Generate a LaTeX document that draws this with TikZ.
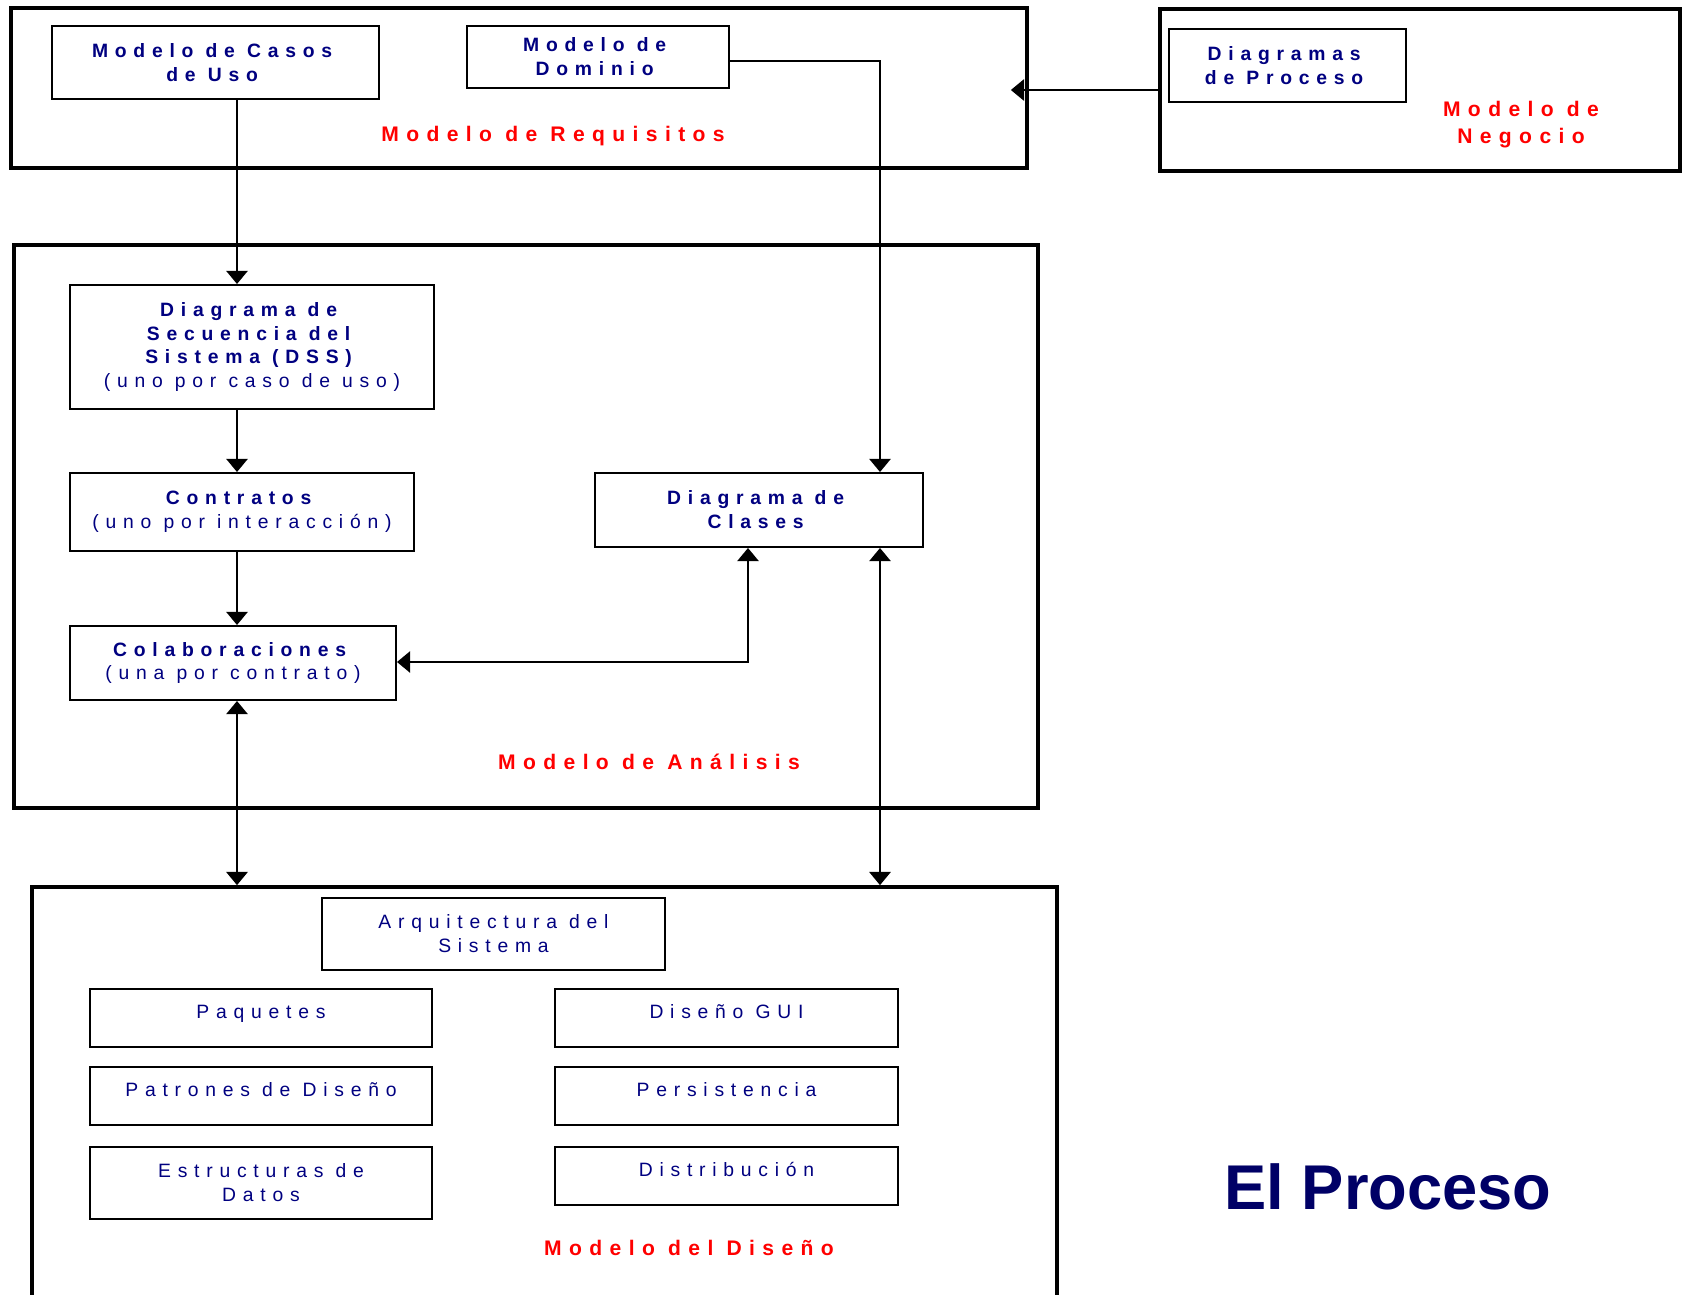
\documentclass[tikz,border=0pt]{standalone}
\usepackage{fontspec}
\setmainfont{Liberation Sans}
\newfontfamily\spaced[LetterSpace=35]{Liberation Sans}
\usepackage{xcolor}
\definecolor{DarkNavy}{HTML}{000080}
\definecolor{TitleNavy}{HTML}{000066}
\definecolor{LabelRed}{HTML}{FF0000}
\usepackage{tikz}
\usetikzlibrary{arrows.meta,positioning}
\newcommand\Px{0.02cm}
\newcommand\BoxFont{\spaced\fontsize{11}{13.6}\selectfont}
\newcommand\TagFont{\spaced\bfseries\fontsize{12}{15.3}\selectfont}
\newcommand\Tip{Triangle[length=7.5pt,width=12pt]}
\tikzstyle{model}=[rectangle,draw=black,line width=2.1pt]
\tikzstyle{part}=[rectangle,draw=black,line width=1.1pt,align=center,inner sep=0pt,
                     text=DarkNavy,font=\BoxFont]
\tikzstyle{oneline}=[text height=8pt,text depth=7pt]
\tikzstyle{tag}=[align=center,inner sep=0pt,text=LabelRed,font=\TagFont]
\tikzstyle{link}=[line width=1.5pt,-{\Tip}]
\tikzstyle{both}=[line width=1.5pt,{\Tip}-{\Tip}]

\begin{document}
\begin{tikzpicture}[x=\Px,y=-\Px]
      \useasboundingbox (0,0) rectangle (1682,1294);
      \clip (0,0) rectangle (1682,1294);
      % lanes of the connectors
      \coordinate (lane) at (237,0);
      \coordinate (lane2) at (880,61);
      \coordinate (lane3) at (748,662);
      % Modelo de Requisitos
      \node[model] (req) at (519,88) [minimum width=1016*\Px,minimum height=160*\Px] {};
      \node[part] (cu) at (215.5,62.5) [minimum width=327*\Px,minimum height=73*\Px] {\textbf{Modelo de Casos}\\\textbf{de Uso}};
      \node[part] (dom) at (598,57) [minimum width=262*\Px,minimum height=62*\Px] {\textbf{Modelo de}\\\textbf{Dominio}};
      \node[tag] (reqtag) at (553,136) {Modelo de Requisitos};
      % Modelo de Negocio
      \node[model] (neg) at (1420,90) [minimum width=520*\Px,minimum height=162*\Px] {};
      \node[part] (proc) at (1287.5,65.5) [minimum width=237*\Px,minimum height=73*\Px] {\textbf{Diagramas}\\\textbf{de Proceso}};
      \node[tag] (negtag) at (1521,125) {Modelo de\\Negocio};
      % Modelo de Analisis
      \node[model] (ana) at (526,526.5) [minimum width=1024*\Px,minimum height=563*\Px] {};
      \node[part] (dss) at (252,347) [minimum width=364*\Px,minimum height=124*\Px] {\textbf{Diagrama de}\\\textbf{Secuencia del}\\\textbf{Sistema (DSS)}\\(uno por caso de uso)};
      \node[part] (con) at (242,512) [minimum width=344*\Px,minimum height=78*\Px] {\textbf{Contratos}\\(uno por interacción)};
      \node[part] (cla) at (759,510) [minimum width=328*\Px,minimum height=74*\Px] {\textbf{Diagrama de}\\\textbf{Clases}};
      \node[part] (col) at (233,663) [minimum width=326*\Px,minimum height=74*\Px] {\textbf{Colaboraciones}\\(una por contrato)};
      \node[tag] (anatag) at (649,762) {Modelo de Análisis};
      % Modelo del Diseno
      \node[model] (dis) at (544.5,1110) [minimum width=1025*\Px,minimum height=446*\Px] {};
      \node[part] (arq) at (493.5,934) [minimum width=343*\Px,minimum height=72*\Px] {Arquitectura del\\Sistema};
      \node[part,oneline] (paq) at (261,1018) [minimum width=342*\Px,minimum height=58*\Px] {Paquetes};
      \node[part,oneline] (pat) at (261,1096) [minimum width=342*\Px,minimum height=58*\Px] {Patrones de Diseño};
      \node[part] (est) at (261,1183) [minimum width=342*\Px,minimum height=72*\Px] {Estructuras de\\Datos};
      \node[part,oneline] (gui) at (726.5,1018) [minimum width=343*\Px,minimum height=58*\Px] {Diseño GUI};
      \node[part,oneline] (per) at (726.5,1096) [minimum width=343*\Px,minimum height=58*\Px] {Persistencia};
      \node[part,oneline] (dist) at (726.5,1176) [minimum width=343*\Px,minimum height=58*\Px] {Distribución};
      \node[tag] (distag) at (689,1248) {Modelo del Diseño};
      \node[text=TitleNavy,font=\fontsize{36}{40}\selectfont\bfseries,inner sep=0pt] (title) at (1388,1187) {El Proceso};
      % connectors
      \draw[link] (cu.south -| lane) -- (dss.north -| lane);
      \draw[link] (dss.south -| lane) -- (con.north -| lane);
      \draw[link] (con.south -| lane) -- (col.north -| lane);
      \draw[link] (dom.east |- lane2) -| (cla.north -| lane2);
      \draw[both] (cla.south -| lane3) |- (col.east |- lane3);
      \draw[both] (col.south -| lane) -- (dis.north -| lane);
      \draw[both] (cla.south -| lane2) -- (dis.north -| lane2);
      \draw[link,shorten >=-18*\Px] (neg.west) -- (neg.west -| req.east);
   \end{tikzpicture}
\end{document}
